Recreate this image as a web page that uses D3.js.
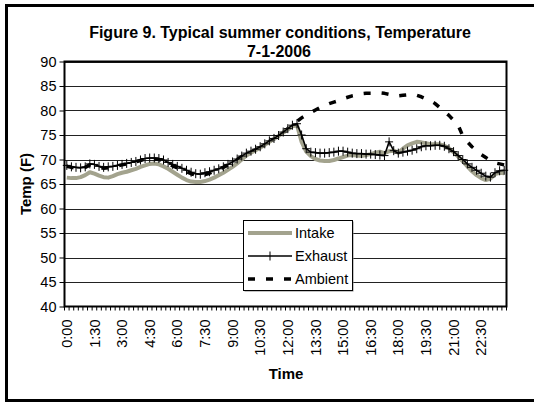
<!DOCTYPE html>
<html>
<head>
<meta charset="utf-8">
<script src="https://cdn.jsdelivr.net/npm/d3@7"></script>
<style>
  body { margin: 0; background: #fff; }
  svg { display: block; font-family: Arial, "Liberation Sans", sans-serif; }
</style>
</head>
<body>
<div id="chart"></div>
<script>
// 15 minute readings, 0:00 .. 23:45
const times = d3.range(96).map(i => `${Math.floor(i / 4)}:${String((i % 4) * 15).padStart(2, "0")}`);

const intake = [
  66.3, 66.2, 66.2, 66.4, 66.8, 67.4, 67.1, 66.7, 66.4, 66.3, 66.6, 67.0,
  67.3, 67.5, 67.8, 68.1, 68.5, 68.8, 69.1, 69.2, 69.0, 68.6, 68.1, 67.5,
  66.9, 66.3, 65.8, 65.5, 65.4, 65.4, 65.6, 65.9, 66.3, 66.8, 67.3, 67.9,
  68.5, 69.2, 70.0, 70.8, 71.4, 71.9, 72.4, 73.0, 73.6, 74.2, 74.8, 75.5,
  76.1, 76.8, 77.0, 73.6, 71.6, 70.7, 70.1, 69.8, 69.7, 69.7, 69.9, 70.2,
  70.5, 70.8, 70.9, 70.8, 70.7, 70.9, 71.1, 71.4, 71.6, 71.3, 71.7, 71.8,
  71.4, 72.2, 72.9, 73.3, 73.6, 73.5, 73.3, 73.1, 73.1, 73.1, 72.8, 72.3,
  71.5, 70.6, 69.6, 68.6, 67.6, 66.8, 66.2, 65.8, 66.1, 67.0, 67.3, 67.2
];

const exhaust = [
  68.8, 68.5, 68.4, 68.3, 68.5, 69.1, 69.0, 68.6, 68.4, 68.5, 68.6, 68.8,
  69.0, 69.2, 69.4, 69.6, 69.9, 70.2, 70.3, 70.3, 70.2, 69.9, 69.4, 69.0,
  68.6, 68.2, 67.8, 67.4, 67.1, 67.0, 67.3, 67.5, 67.8, 68.1, 68.5, 69.0,
  69.5, 70.1, 70.7, 71.3, 71.7, 72.1, 72.6, 73.2, 73.8, 74.3, 74.9, 75.6,
  76.3, 77.0, 77.3, 75.0, 72.2, 71.5, 71.4, 71.3, 71.3, 71.4, 71.5, 71.7,
  71.7, 71.5, 71.3, 71.2, 71.2, 71.1, 71.1, 71.0, 70.9, 70.8, 73.6, 71.8,
  71.3, 71.5, 71.7, 71.9, 72.2, 72.6, 72.8, 72.8, 72.9, 72.9, 72.7, 72.2,
  71.6, 70.8, 70.0, 69.1, 68.4, 67.8, 67.2, 66.6, 66.4, 67.3, 67.7, 67.8
];

const ambient = [
  68.6, 68.4, 68.2, 68.2, 68.4, 68.9, 68.8, 68.4, 68.2, 68.3, 68.5, 68.7,
  68.9, 69.1, 69.3, 69.5, 69.8, 70.1, 70.2, 70.1, 70.0, 69.6, 69.1, 68.7,
  68.3, 67.9, 67.5, 67.1, 66.8, 66.7, 66.9, 67.2, 67.6, 68.0, 68.4, 68.9,
  69.4, 70.0, 70.6, 71.2, 71.6, 72.0, 72.5, 73.1, 73.7, 74.2, 74.8, 75.5,
  76.3, 77.1, 77.8, 78.5, 79.1, 79.6, 80.1, 80.6, 81.0, 81.4, 81.7, 82.0,
  82.4, 82.7, 83.0, 83.2, 83.4, 83.5, 83.5, 83.6, 83.6, 83.5, 83.3, 83.0,
  83.0, 83.1, 83.2, 83.3, 83.1, 82.8, 82.4, 82.0, 81.4, 80.6, 79.8, 79.0,
  78.0, 77.0, 74.8, 73.6, 72.6, 71.8, 71.0, 70.4, 69.8, 69.3, 69.1, 68.9
];

const yTicks = [40, 45, 50, 55, 60, 65, 70, 75, 80, 85, 90];
const xLabels = times.filter((d, i) => i % 6 === 0 && i <= 90);

const series = [
  { name: "Intake", values: intake, color: "#a3a38e", width: 4, dash: null, marker: false },
  { name: "Exhaust", values: exhaust, color: "#000", width: 1.6, dash: null, marker: true },
  { name: "Ambient", values: ambient, color: "#000", width: 3.5, dash: "7,11", marker: false }
];

const width = 534, height = 402;
const plot = { left: 64.5, right: 506.5, top: 61.5, bottom: 306.5 };

const svg = d3.select("#chart").append("svg")
  .attr("width", width)
  .attr("height", height);

svg.append("rect")
  .attr("width", width).attr("height", height)
  .attr("fill", "#fff");

// outer frame (right side runs off the picture)
svg.append("rect")
  .attr("x", 6.5).attr("y", 5.5)
  .attr("width", 560).attr("height", 395)
  .attr("fill", "none")
  .attr("stroke", "#000")
  .attr("stroke-width", 3);

const x = d3.scaleBand()
  .domain(times)
  .range([plot.left, plot.right])
  .padding(0);

const y = d3.scaleLinear()
  .domain([40, 90])
  .range([plot.bottom, plot.top]);

const cx = d => x(d) + x.bandwidth() / 2;

// gridlines
svg.append("g")
  .selectAll("line")
  .data(yTicks.slice(1))
  .enter().append("line")
  .attr("x1", plot.left).attr("x2", plot.right)
  .attr("y1", d => Math.round(y(d)) + 0.5)
  .attr("y2", d => Math.round(y(d)) + 0.5)
  .attr("stroke", "#222")
  .attr("stroke-width", 1);

// y axis
const yAxis = svg.append("g")
  .attr("transform", `translate(${plot.left},0)`)
  .call(d3.axisLeft(y).tickValues(yTicks).tickSize(5).tickPadding(3).tickFormat(d3.format("d")));
yAxis.select(".domain").remove();
yAxis.selectAll(".tick line").attr("stroke", "#000");
yAxis.selectAll("text")
  .attr("font-size", 14.5)
  .attr("fill", "#000");

// x axis: labels every 1:30, minor ticks on every category boundary
const xAxis = svg.append("g")
  .attr("transform", `translate(0,${plot.bottom})`)
  .call(d3.axisBottom(x).tickValues(xLabels).tickSize(0).tickPadding(0));
xAxis.select(".domain").remove();
xAxis.selectAll("text")
  .attr("font-size", 14.5)
  .attr("fill", "#000")
  .attr("text-anchor", "end")
  .attr("transform", "rotate(-90)")
  .attr("x", -13)
  .attr("y", 0)
  .attr("dy", "0.35em");

svg.append("g")
  .selectAll("line")
  .data(times.concat(["end"]))
  .enter().append("line")
  .attr("x1", (d, i) => plot.left + i * x.step())
  .attr("x2", (d, i) => plot.left + i * x.step())
  .attr("y1", plot.bottom)
  .attr("y2", plot.bottom + 4)
  .attr("stroke", "#000")
  .attr("stroke-width", 1);

// plot border
svg.append("rect")
  .attr("x", plot.left).attr("y", plot.top)
  .attr("width", plot.right - plot.left)
  .attr("height", plot.bottom - plot.top)
  .attr("fill", "none")
  .attr("stroke", "#000")
  .attr("stroke-width", 2);

// series
const line = d3.line()
  .x((d, i) => cx(times[i]))
  .y(d => y(d));

const drawOrder = [series[2], series[0], series[1]];
drawOrder.forEach(s => {
  svg.append("path")
    .datum(s.values)
    .attr("d", line)
    .attr("fill", "none")
    .attr("stroke", s.color)
    .attr("stroke-width", s.width)
    .attr("stroke-dasharray", s.dash)
    .attr("stroke-linejoin", "round");

  if (s.marker) {
    svg.append("g")
      .selectAll("path")
      .data(s.values)
      .enter().append("path")
      .attr("d", (d, i) => {
        const px = cx(times[i]), py = y(d);
        return `M${px - 4},${py}H${px + 4}M${px},${py - 4.5}V${py + 4.5}`;
      })
      .attr("stroke", "#000")
      .attr("stroke-width", 1)
      .attr("fill", "none");
  }
});

// legend
const legend = { x: 243, y: 220, w: 109, h: 70 };
svg.append("rect")
  .attr("x", legend.x + 1.5).attr("y", legend.y + 1.5)
  .attr("width", legend.w).attr("height", legend.h)
  .attr("fill", "#888");
svg.append("rect")
  .attr("x", legend.x + 0.5).attr("y", legend.y + 0.5)
  .attr("width", legend.w).attr("height", legend.h)
  .attr("fill", "#fff")
  .attr("stroke", "#000")
  .attr("stroke-width", 1);

const item = svg.append("g")
  .selectAll("g")
  .data(series)
  .enter().append("g")
  .attr("transform", (d, i) => `translate(${legend.x + 5},${legend.y + 13 + i * 23})`);

item.append("line")
  .attr("x1", 0).attr("x2", 44)
  .attr("stroke", d => d.color)
  .attr("stroke-width", d => d.width)
  .attr("stroke-dasharray", d => d.dash);

item.filter(d => d.marker).append("path")
  .attr("d", "M22,-4.5V4.5")
  .attr("stroke", "#000")
  .attr("stroke-width", 1);

item.append("text")
  .attr("x", 47)
  .attr("dy", "0.35em")
  .attr("font-size", 14.5)
  .text(d => d.name);

// titles
const title = svg.append("text")
  .attr("x", 280)
  .attr("text-anchor", "middle")
  .attr("font-size", 16)
  .attr("font-weight", "bold");
title.append("tspan").attr("x", 280).attr("y", 38).text("Figure 9. Typical summer conditions, Temperature");
title.append("tspan").attr("x", 279).attr("y", 57).text("7-1-2006");

svg.append("text")
  .attr("x", 286).attr("y", 379)
  .attr("text-anchor", "middle")
  .attr("font-size", 15)
  .attr("font-weight", "bold")
  .text("Time");

svg.append("text")
  .attr("transform", `translate(31,${(plot.top + plot.bottom) / 2}) rotate(-90)`)
  .attr("text-anchor", "middle")
  .attr("font-size", 15)
  .attr("font-weight", "bold")
  .text("Temp (F)");
</script>
</body>
</html>
